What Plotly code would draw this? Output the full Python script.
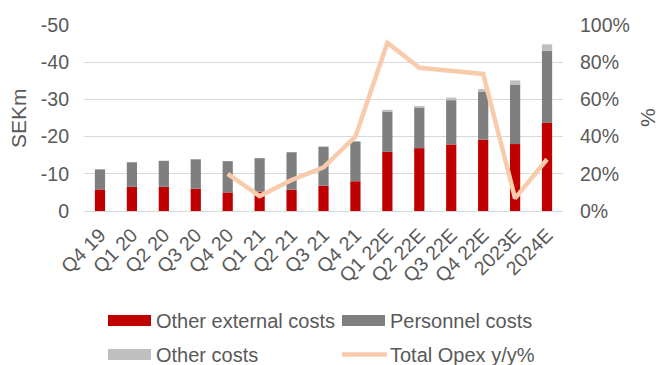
import plotly.graph_objects as go

# Quarterly / annual operating expenses (SEKm, shown as negative costs)
categories = ["Q4 19", "Q1 20", "Q2 20", "Q3 20", "Q4 20", "Q1 21", "Q2 21", "Q3 21",
              "Q4 21", "Q1 22E", "Q2 22E", "Q3 22E", "Q4 22E", "2023E", "2024E"]
other_external_costs = [-5.8, -6.5, -6.5, -6.0, -5.0, -5.2, -5.7, -6.8,
                        -8.0, -15.9, -16.9, -17.9, -19.2, -18.0, -23.7]
personnel_costs = [-5.4, -6.6, -7.0, -7.9, -8.4, -9.0, -10.1, -10.5,
                   -10.7, -10.8, -10.9, -11.9, -12.8, -16.0, -19.4]
other_costs = [0, 0, 0, 0, 0, 0, 0, 0,
               0, -0.5, -0.4, -0.7, -0.8, -1.1, -1.7]
total_opex_yoy = [None, None, None, None, 20.0, 8.0, 16.7, 23.5,
                  40.0, 90.5, 77.0, 75.5, 73.7, 6.8, 27.8]

left_ticks = [0, -10, -20, -30, -40, -50]
right_ticks = [0, 20, 40, 60, 80, 100]

RED = "#C00000"
DARK_GREY = "#7F7F7F"
LIGHT_GREY = "#BFBFBF"
PEACH = "#F8CBAD"
TEXT = "#595959"
GRID = "#D9D9D9"
FONT = "Liberation Sans, Arial, sans-serif"

W, H = 661, 365
L, R, T, B = 84, 98, 25, 154
plot_w = W - L - R
plot_h = H - T - B

fig = go.Figure()
fig.add_trace(go.Bar(x=categories, y=other_external_costs, name="Other external costs",
                     marker=dict(color=RED, line=dict(width=0)), showlegend=False))
fig.add_trace(go.Bar(x=categories, y=personnel_costs, name="Personnel costs",
                     marker=dict(color=DARK_GREY, line=dict(width=0)), showlegend=False))
fig.add_trace(go.Bar(x=categories, y=other_costs, name="Other costs",
                     marker=dict(color=LIGHT_GREY, line=dict(width=0)), showlegend=False))
fig.add_trace(go.Scatter(x=categories, y=total_opex_yoy, name="Total Opex y/y%",
                         mode="lines", yaxis="y2",
                         line=dict(color=PEACH, width=4.5), showlegend=False))


def px_x(px):
    return (px - L) / plot_w


def px_y(py):
    return (H - B - py) / plot_h


# Two-column legend drawn below the plot area
legend_items = [
    ("Other external costs", RED, "rect", 108, 320.5),
    ("Personnel costs", DARK_GREY, "rect", 342, 320.5),
    ("Other costs", LIGHT_GREY, "rect", 108, 354.5),
    ("Total Opex y/y%", PEACH, "line", 342, 354.5),
]
shapes = []
annotations = []
for label, color, kind, x0, yc in legend_items:
    if kind == "rect":
        shapes.append(dict(type="rect", xref="paper", yref="paper",
                           x0=px_x(x0), x1=px_x(x0 + 43),
                           y0=px_y(yc - 5.5), y1=px_y(yc + 5.5),
                           fillcolor=color, line=dict(width=0)))
    else:
        shapes.append(dict(type="line", xref="paper", yref="paper",
                           x0=px_x(x0), x1=px_x(x0 + 45),
                           y0=px_y(yc), y1=px_y(yc),
                           line=dict(color=color, width=4.5)))
    annotations.append(dict(text=label, xref="paper", yref="paper",
                            x=px_x(x0 + 46), y=px_y(yc), xanchor="left", yanchor="middle",
                            showarrow=False, font=dict(size=20, color=TEXT, family=FONT)))

# Axis titles
annotations.append(dict(text="SEKm", xref="paper", yref="paper", x=px_x(18), y=px_y(118),
                        xanchor="center", yanchor="middle", textangle=-90, showarrow=False,
                        font=dict(size=21, color=TEXT, family=FONT)))
annotations.append(dict(text="%", xref="paper", yref="paper", x=px_x(647), y=px_y(118),
                        xanchor="center", yanchor="middle", textangle=-90, showarrow=False,
                        font=dict(size=21, color=TEXT, family=FONT)))

fig.update_layout(
    width=W, height=H,
    margin=dict(l=L, r=R, t=T, b=B, pad=0),
    paper_bgcolor="white", plot_bgcolor="white",
    barmode="relative", bargap=0.68,
    font=dict(family=FONT, color=TEXT, size=19.5),
    shapes=shapes, annotations=annotations,
    xaxis=dict(type="category", tickangle=-45, showgrid=False, showline=False,
               ticks="", ticklabelstandoff=8, tickfont=dict(size=19.5, color=TEXT)),
    yaxis=dict(range=[0, -50], tickvals=left_ticks, ticktext=[str(v) for v in left_ticks],
               showgrid=True, gridcolor=GRID, gridwidth=1, zeroline=True,
               zerolinecolor=GRID, zerolinewidth=1, showline=False, ticks="",
               ticklabelstandoff=14, tickfont=dict(size=19.5, color=TEXT)),
    yaxis2=dict(range=[0, 100], tickvals=right_ticks, ticktext=[f"{v}%" for v in right_ticks],
                overlaying="y", side="right", showgrid=False, zeroline=False,
                showline=False, ticks="", ticklabelstandoff=16,
                tickfont=dict(size=19.5, color=TEXT)),
)

fig.write_html("out.html")
